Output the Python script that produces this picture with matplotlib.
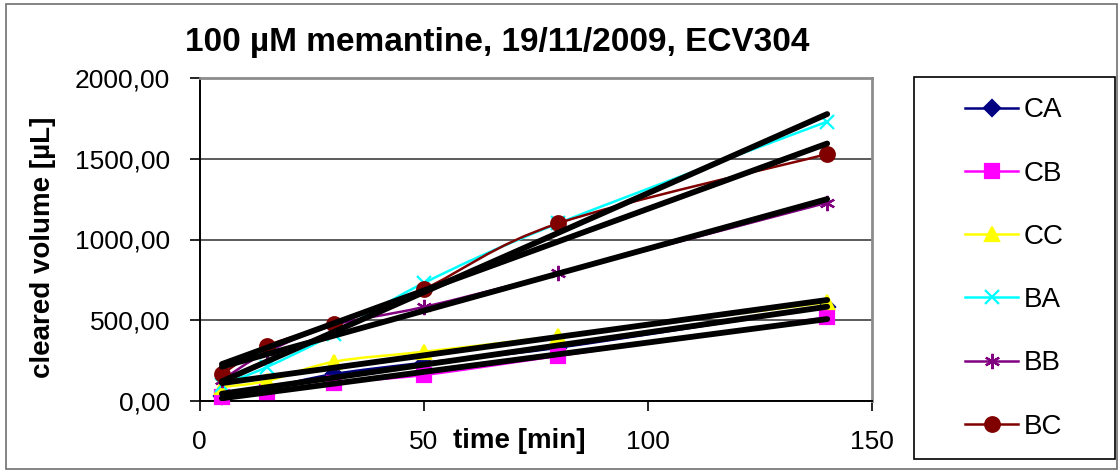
import matplotlib
matplotlib.use('Agg')
import matplotlib.pyplot as plt
from matplotlib.path import Path
from matplotlib.patches import PathPatch, Rectangle
from matplotlib.lines import Line2D
from matplotlib.ticker import FuncFormatter
import numpy as np

plt.rcParams['font.family'] = ['Liberation Sans', 'DejaVu Sans']

# data
time_min = [5, 15, 30, 50, 80, 140]
series_names = ['CA', 'CB', 'CC', 'BA', 'BB', 'BC']
ca = [30, 80, 167, 237, 330, 584]
cb = [25, 58, 113, 161, 279, 518]
cc = [87, 124, 243, 305, 402, 610]
ba = [100, 210, 415, 730, 1100, 1730]
bb = [130, 303, 470, 582, 791, 1228]
bc = [167, 340, 477, 692, 1100, 1529]
series_values = [ca, cb, cc, ba, bb, bc]

# styles
colors = ['#000080', '#ff00ff', '#ffff00', '#00ffff', '#800080', '#800000']
markers = ['D', 's', '^', 'x', (6, 2, 0), 'o']
msizes = [8.5, 10.5, 10.5, 10.5, 11, 10.5]

W, H = 1120, 471
fig = plt.figure(figsize=(W / 100, H / 100), dpi=100)
fig.patch.set_facecolor('white')

def fx(px):
    return px / W

def fy(py):
    return 1 - py / H

# outer chart border
fig.patches.append(Rectangle((fx(6), fy(469)), fx(1117) - fx(6), fy(4) - fy(469),
                             transform=fig.transFigure, fill=False,
                             edgecolor='#707070', linewidth=1.2))

ax = fig.add_axes([fx(199.5), fy(401), fx(872) - fx(199.5), fy(78) - fy(401)])
ax.set_xlim(0, 150)
ax.set_ylim(0, 2000)
ax.set_xticks([0, 50, 100, 150])
ax.set_yticks([0, 500, 1000, 1500, 2000])
ax.yaxis.set_major_formatter(FuncFormatter(lambda v, p: f'{v:.2f}'.replace('.', ',')))
ax.tick_params(axis='both', direction='out', length=7, width=1.2, colors='black',
               labelsize=19)
ax.tick_params(axis='y', pad=14)
ax.tick_params(axis='x', pad=14)
ax.grid(axis='y', color='#404040', linewidth=1.2, zorder=0)
for side in ['left', 'bottom']:
    ax.spines[side].set_color('black')
    ax.spines[side].set_linewidth(1.4)
for side in ['top', 'right']:
    ax.spines[side].set_color('#8c8c8c')
    ax.spines[side].set_linewidth(2)


def smooth_path(xs, ys):
    # Excel-like smoothed line: cubic Bezier through the points
    pts = ax.transData.transform(np.column_stack([xs, ys]))
    n = len(pts)
    verts = [pts[0]]
    codes = [Path.MOVETO]
    for i in range(n - 1):
        p0 = pts[i - 1] if i > 0 else pts[i]
        p1 = pts[i]
        p2 = pts[i + 1]
        p3 = pts[i + 2] if i + 2 < n else pts[i + 1]
        c1 = p1 + (p2 - p0) / 6
        c2 = p2 - (p3 - p1) / 6
        verts += [c1, c2, p2]
        codes += [Path.CURVE4] * 3
    return Path(verts, codes)


handles = []
for name, vals, col, mk, ms in zip(series_names, series_values, colors, markers, msizes):
    path = smooth_path(time_min, vals)
    ax.add_patch(PathPatch(path, transform=None, facecolor='none', edgecolor=col,
                           linewidth=1.8, zorder=3))
    ax.plot(time_min, vals, linestyle='none', marker=mk, markersize=ms, color=col,
            markeredgecolor=col, markeredgewidth=1.6, zorder=4, clip_on=False)
    handles.append(Line2D([], [], color=col, linewidth=1.8, marker=mk, markersize=ms,
                          markeredgecolor=col, markeredgewidth=1.6, label=name))

# linear trend lines
for vals in series_values:
    k, b = np.polyfit(time_min, vals, 1)
    x0, x1 = min(time_min), max(time_min)
    ax.plot([x0, x1], [k * x0 + b, k * x1 + b], color='black', linewidth=4.2,
            solid_capstyle='round', zorder=5)

# titles
fig.text(fx(497), fy(42), '100 µM memantine, 19/11/2009, ECV304', fontsize=24,
         fontweight='bold', ha='center', va='center')
fig.text(fx(43), fy(247), 'cleared volume [µL]', fontsize=20, fontweight='bold',
         rotation=90, ha='center', va='center')
fig.text(fx(519), fy(441), 'time [min]', fontsize=20, fontweight='bold',
         ha='center', va='center')

# legend
fig.patches.append(Rectangle((fx(914), fy(459)), fx(1115) - fx(914), fy(77) - fy(459),
                             transform=fig.transFigure, fill=False,
                             edgecolor='black', linewidth=1.2))
fig.legend(handles=handles, loc='center', bbox_to_anchor=(fx(1014.5), fy(268.5)),
           frameon=False, fontsize=20, handlelength=1.9, handletextpad=0.2,
           labelspacing=1.34, borderpad=0)

fig.savefig('out.png', dpi=100, facecolor='white')
